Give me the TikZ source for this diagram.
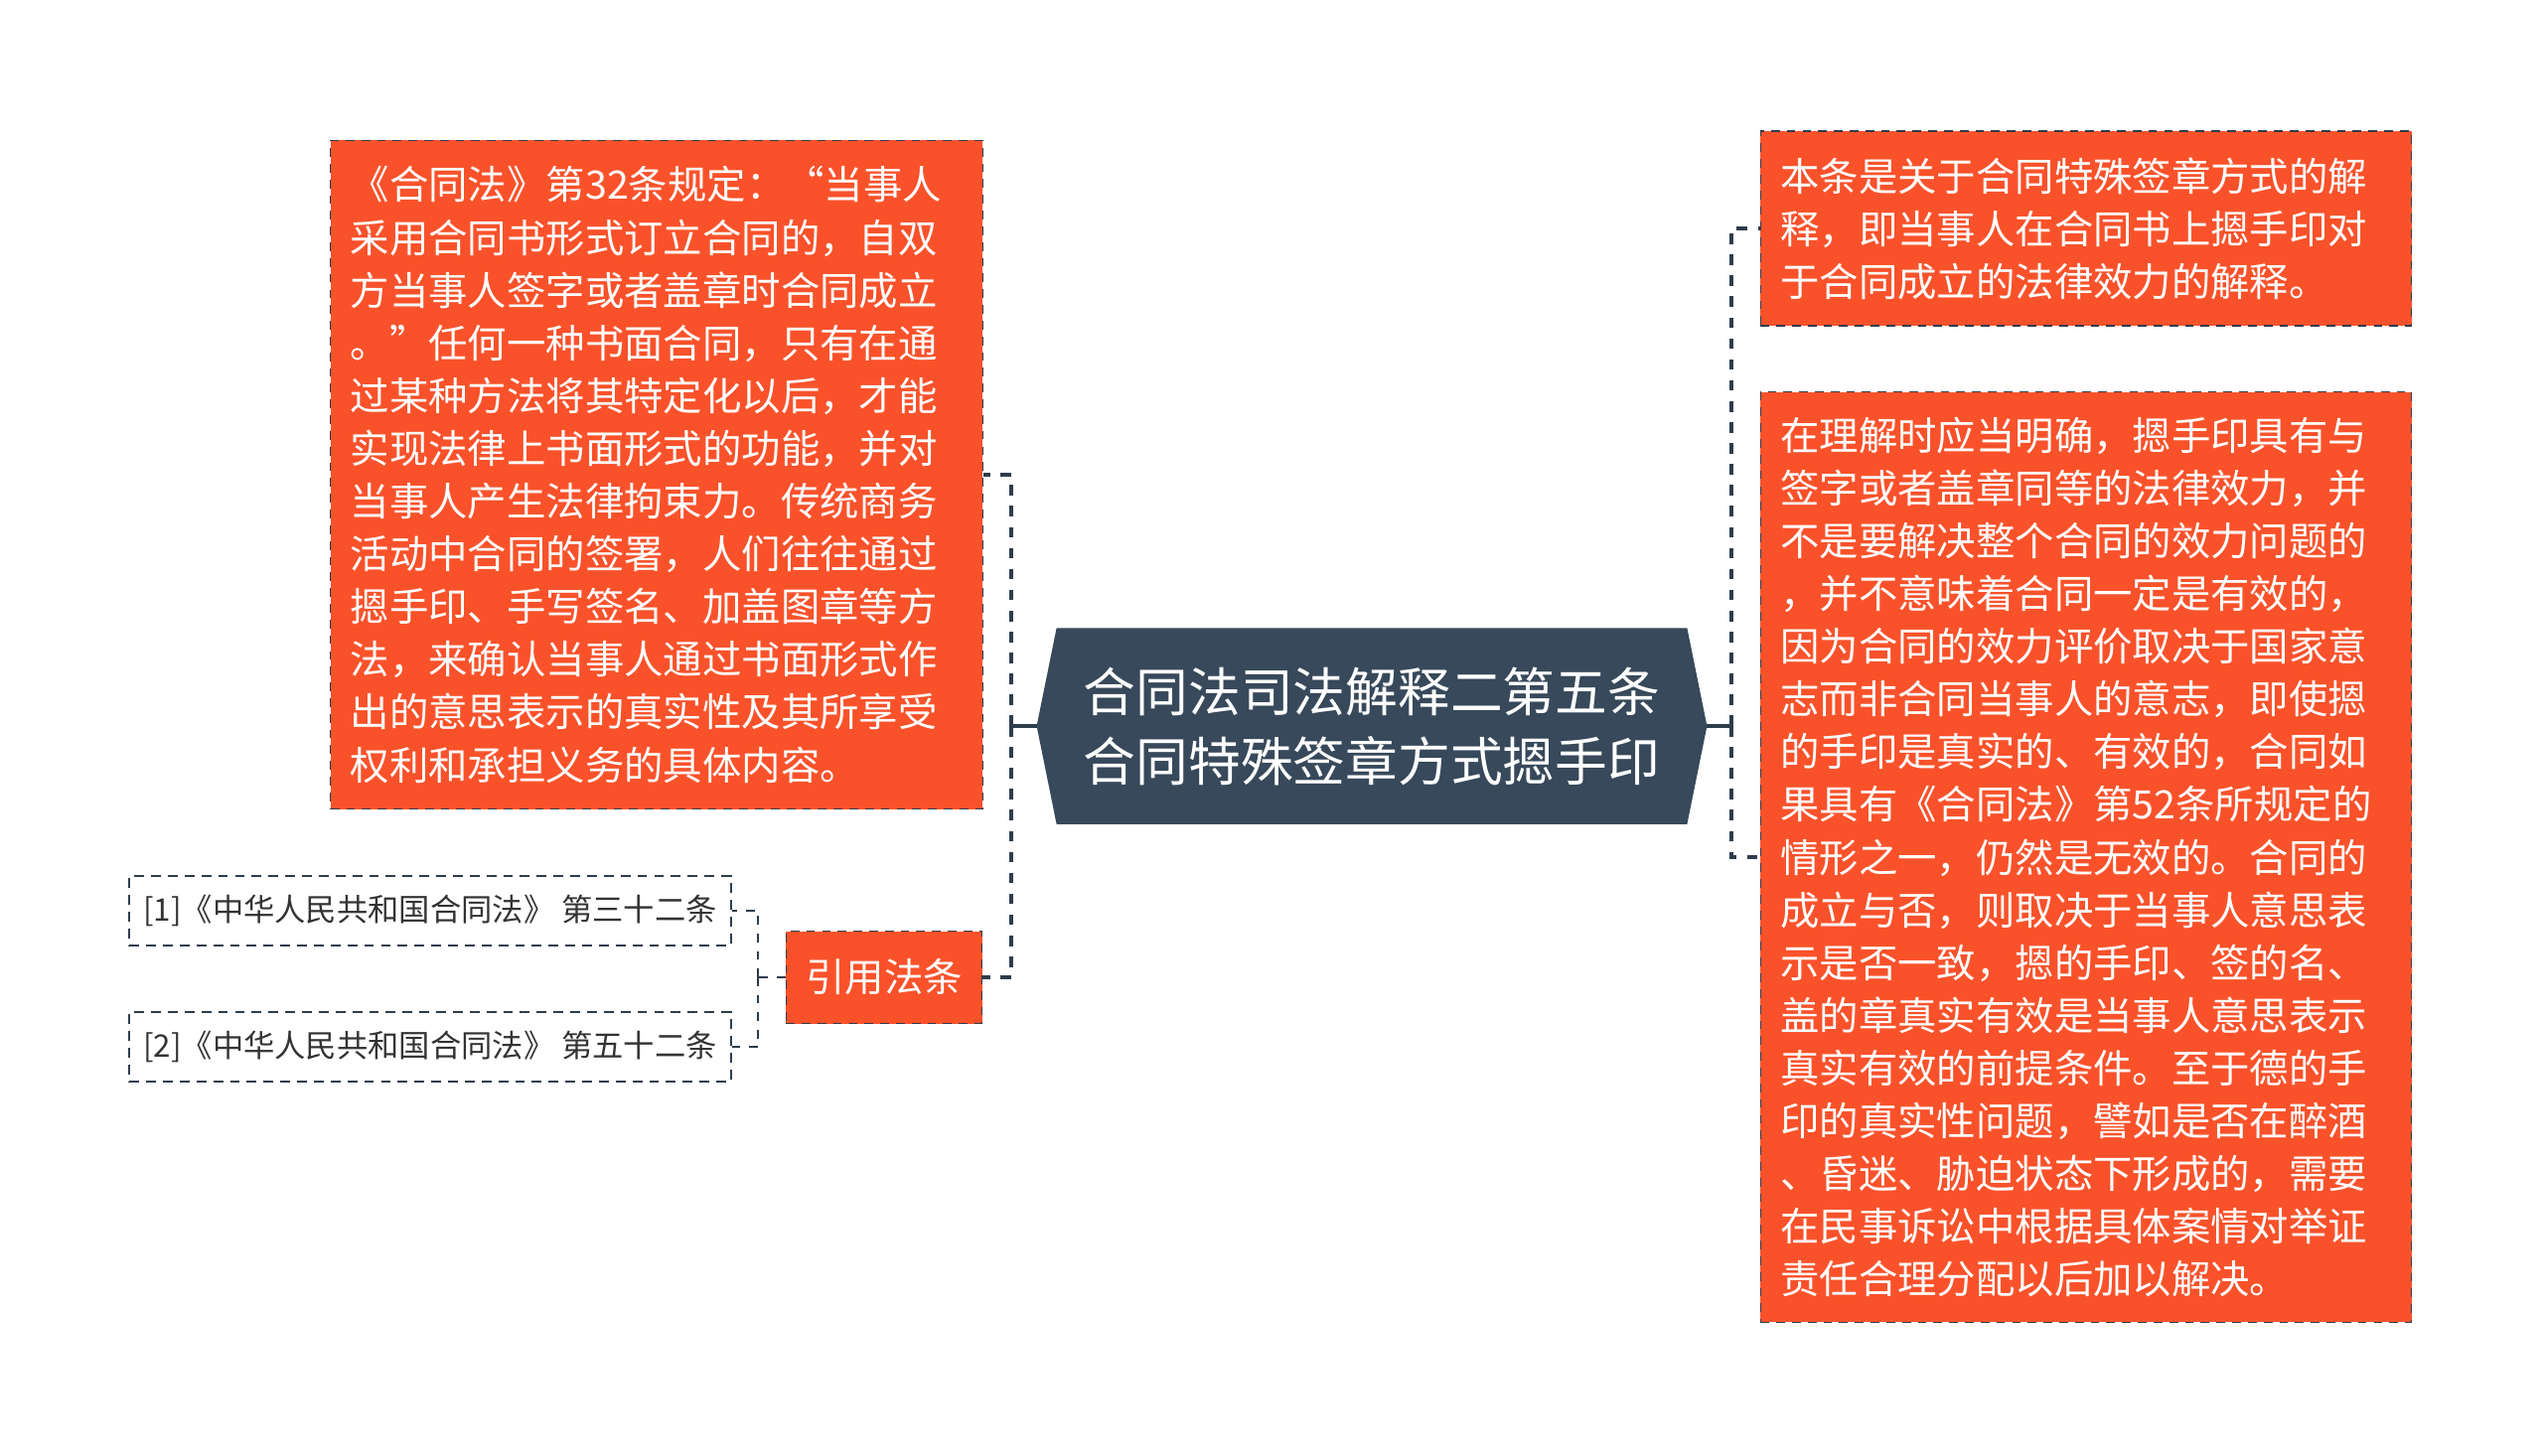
\documentclass[tikz,border=0pt]{standalone}
\usepackage{fontspec}
\setmainfont{Noto Sans CJK SC}
\usetikzlibrary{backgrounds,calc}
\definecolor{fireorange}{RGB}{249,82,43}
\definecolor{rootslate}{RGB}{55,73,90}
\definecolor{linkslate}{RGB}{46,61,76}
\definecolor{reftext}{RGB}{51,51,51}
\begin{document}
\begin{tikzpicture}[x=0.01cm,y=-0.01cm]
  \tikzset{
    topic/.style={fill=fireorange, draw=linkslate, line width=0.35pt,
      dash pattern=on 2.5pt off 2pt, text=white,
      font=\fontsize{11.2}{15.1}\selectfont, align=left,
      inner xsep=0.2cm, inner ysep=0pt},
    refbox/.style={draw=linkslate, line width=0.65pt, dash pattern=on 2.8pt off 2pt,
      text=reftext, font=\fontsize{8.9}{11}\selectfont,
      minimum width=6.05cm, minimum height=0.7cm, inner sep=0pt},
    link/.style={draw=linkslate, line width=1pt, dash pattern=on 3pt off 3pt},
    sublink/.style={draw=linkslate, line width=0.6pt, dash pattern=on 2.5pt off 2.5pt}
  }
  \useasboundingbox (0,0) rectangle (2560,1465);

  % central topic
  \node[text=white, font=\fontsize{15}{19.9}\selectfont, align=center,
    minimum width=6.73cm, minimum height=1.96cm, inner sep=0pt] (root) at (1381,731)
    {合同法司法解释二第五条\\合同特殊签章方式摁手印};
  \begin{scope}[on background layer]
    \fill[rootslate] (root.west) -- ($(root.north west)+(20,0)$) -- ($(root.north east)+(-20,0)$)
      -- (root.east) -- ($(root.south east)+(-20,0)$) -- ($(root.south west)+(20,0)$) -- cycle;
  \end{scope}

  % left side
  \node[topic, text width=6.16cm, minimum height=6.73cm] (law) at (661,478)
    {《合同法》第32条规定：“当事人\\
     采用合同书形式订立合同的，自双\\
     方当事人签字或者盖章时合同成立\\
     。”任何一种书面合同，只有在通\\
     过某种方法将其特定化以后，才能\\
     实现法律上书面形式的功能，并对\\
     当事人产生法律拘束力。传统商务\\
     活动中合同的签署，人们往往通过\\
     摁手印、手写签名、加盖图章等方\\
     法，来确认当事人通过书面形式作\\
     出的意思表示的真实性及其所享受\\
     权利和承担义务的具体内容。};
  \node[topic, align=center, minimum width=1.97cm, minimum height=0.93cm] (cite) at (890,984) {引用法条};
  \node[refbox] (ref1) at (433,917) {[1]《中华人民共和国合同法》 第三十二条};
  \node[refbox] (ref2) at (433,1054) {[2]《中华人民共和国合同法》 第五十二条};

  % right side
  \node[topic, text width=6.15cm, minimum height=1.96cm] (note) at (2100,230)
    {本条是关于合同特殊签章方式的解\\
     释，即当事人在合同书上摁手印对\\
     于合同成立的法律效力的解释。};
  \node[topic, text width=6.15cm, minimum height=9.36cm] (detail) at (2100,863)
    {在理解时应当明确，摁手印具有与\\
     签字或者盖章同等的法律效力，并\\
     不是要解决整个合同的效力问题的\\
     ，并不意味着合同一定是有效的，\\
     因为合同的效力评价取决于国家意\\
     志而非合同当事人的意志，即使摁\\
     的手印是真实的、有效的，合同如\\
     果具有《合同法》第52条所规定的\\
     情形之一，仍然是无效的。合同的\\
     成立与否，则取决于当事人意思表\\
     示是否一致，摁的手印、签的名、\\
     盖的章真实有效是当事人意思表示\\
     真实有效的前提条件。至于德的手\\
     印的真实性问题，譬如是否在醉酒\\
     、昏迷、胁迫状态下形成的，需要\\
     在民事诉讼中根据具体案情对举证\\
     责任合理分配以后加以解决。};

  % connectors
  \coordinate (lj) at (1018,731);
  \coordinate (rj) at (1743,731);
  \coordinate (cj) at (763,984);
  \draw[linkslate, line width=1pt] (root.west) -- (lj);
  \draw[link] (lj) |- (law.east);
  \draw[link] (lj) |- (cite.east);
  \draw[linkslate, line width=1pt] (root.east) -- (rj);
  \draw[link] (rj) |- (note.west);
  \draw[link] (rj) |- (detail.west);
  \draw[sublink] (cite.west) -- (cj);
  \draw[sublink] (cj) |- (ref1.east);
  \draw[sublink] (cj) |- (ref2.east);
\end{tikzpicture}
\end{document}
